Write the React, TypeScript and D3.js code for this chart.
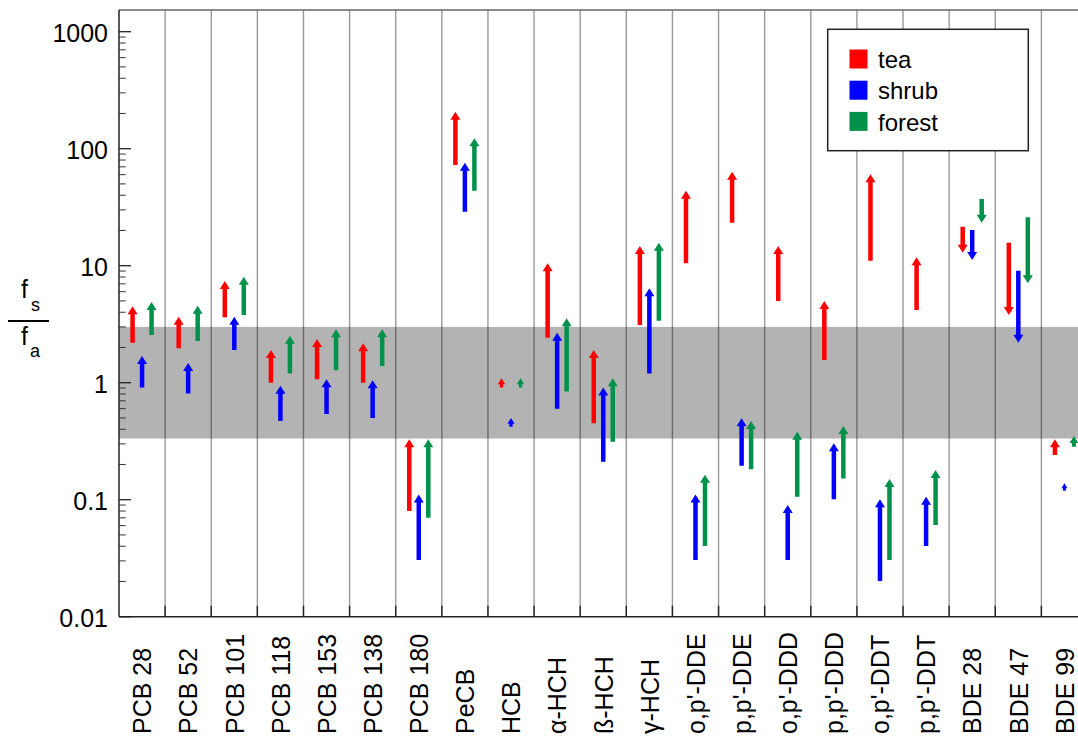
import React from "react";
import * as d3 from "d3";

const categories = [
  "PCB 28", "PCB 52", "PCB 101", "PCB 118", "PCB 153", "PCB 138", "PCB 180",
  "PeCB", "HCB", "α-HCH", "ß-HCH", "γ-HCH", "o,p'-DDE", "p,p'-DDE",
  "o,p'-DDD", "p,p'-DDD", "o,p'-DDT", "p,p'-DDT", "BDE 28", "BDE 47", "BDE 99",
];

const seriesNames = ["tea", "shrub", "forest"];
const seriesColors = ["#ff0000", "#0000ff", "#00924a"];

// arrow tail (from) and head (to) values of fs/fa
const teaFrom = [2.2, 1.97, 3.62, 1.0, 1.07, 1.0, 0.08, 72.6, 0.91, 2.42, 0.45, 3.11, 10.5, 23.3, 4.99, 1.56, 11.0, 4.18, 21.5, 15.7, 0.241];
const teaTo = [4.5, 3.66, 7.4, 1.9, 2.36, 2.17, 0.328, 207, 1.09, 10.5, 1.9, 14.7, 43.8, 63.6, 14.7, 4.99, 60.4, 11.8, 12.9, 3.79, 0.328];
const shrubFrom = [0.91, 0.81, 1.9, 0.47, 0.54, 0.5, 0.0305, 28.9, 0.42, 0.6, 0.211, 1.2, 0.0305, 0.195, 0.0305, 0.101, 0.0202, 0.0402, 20.2, 9.06, 0.119];
const shrubTo = [1.69, 1.47, 3.66, 0.94, 1.07, 1.05, 0.111, 75.9, 0.5, 2.67, 0.91, 6.41, 0.111, 0.496, 0.09, 0.303, 0.101, 0.106, 11.2, 2.2, 0.138];
const forestFrom = [2.56, 2.27, 3.79, 1.2, 1.28, 1.39, 0.07, 43.8, 0.91, 0.84, 0.313, 3.39, 0.0402, 0.182, 0.106, 0.152, 0.0305, 0.0608, 37.2, 25.9, 0.284];
const forestTo = [4.9, 4.55, 8.05, 2.52, 2.86, 2.86, 0.328, 122.7, 1.09, 3.55, 1.09, 15.7, 0.163, 0.471, 0.381, 0.427, 0.15, 0.179, 23.3, 7.07, 0.35];

const yTickValues = [0.01, 0.1, 1, 10, 100, 1000];
const yTickLabels = ["0.01", "0.1", "1", "10", "100", "1000"];
const bandLow = 1 / 3;
const bandHigh = 3;

const W = 1078;
const H = 738;
const plotLeft = 119;
const plotRight = 1087.5;
const plotTop = 10;
const plotBottom = 616.7;
const FONT = "'Liberation Sans', Arial, Helvetica, sans-serif";

export default function App() {
  const x = d3.scaleBand<string>().domain(categories).range([plotLeft, plotRight]).padding(0);
  const xs = d3.scalePoint<string>().domain(seriesNames).range([-9.5, 9.5]);
  const y = d3.scaleLog().domain([0.01, 1000]).range([plotBottom, 31.7]);

  const froms = [teaFrom, shrubFrom, forestFrom];
  const tos = [teaTo, shrubTo, forestTo];

  const minorTicks: number[] = [];
  for (let e = -2; e <= 3; e++) {
    for (let m = 2; m <= 9; m++) {
      const v = m * Math.pow(10, e);
      if (y(v) >= plotTop) minorTicks.push(v);
    }
  }

  const arrows: React.ReactNode[] = [];
  categories.forEach((c, i) => {
    seriesNames.forEach((s, k) => {
      const cx = (x(c) as number) + x.bandwidth() / 2 + (xs(s) as number);
      const y0 = y(froms[k][i]);
      const y1 = y(tos[k][i]);
      const len = Math.abs(y1 - y0);
      const dir = y1 < y0 ? -1 : 1;
      const headLen = Math.min(8, 0.65 * len);
      const headW = Math.min(10, headLen * 1.25);
      const shaftW = Math.min(5, headW * 0.45);
      const yb = y1 - dir * headLen;
      const p = d3.path();
      p.moveTo(cx - shaftW / 2, y0);
      p.lineTo(cx - shaftW / 2, yb);
      p.lineTo(cx - headW / 2, yb);
      p.lineTo(cx, y1);
      p.lineTo(cx + headW / 2, yb);
      p.lineTo(cx + shaftW / 2, yb);
      p.lineTo(cx + shaftW / 2, y0);
      p.closePath();
      arrows.push(<path key={`${c}-${s}`} d={p.toString()} fill={seriesColors[k]} />);
    });
  });

  const separators = categories.slice(1).map((c) => x(c) as number);

  return (
    <svg width={W} height={H} style={{ position: "absolute", left: 0, top: 0 }} fontFamily={FONT}>
      <rect x={0} y={0} width={W} height={H} fill="#fff" />
      {/* gray band */}
      <rect x={plotLeft} y={y(bandHigh)} width={plotRight - plotLeft} height={y(bandLow) - y(bandHigh)} fill="#b3b3b3" />
      {/* separators */}
      {separators.map((sx, i) => (
        <line key={`sep${i}`} x1={sx} x2={sx} y1={plotTop} y2={plotBottom} stroke="#000" strokeOpacity={0.4} strokeWidth={1.4} />
      ))}
      {arrows}
      {/* frame */}
      <line x1={plotLeft} x2={W} y1={plotTop} y2={plotTop} stroke="#666" strokeWidth={1.5} />
      <line x1={plotLeft} x2={plotLeft} y1={plotTop} y2={plotBottom} stroke="#222" strokeWidth={1.5} />
      <line x1={plotLeft} x2={W} y1={plotBottom} y2={plotBottom} stroke="#222" strokeWidth={1.5} />
      {/* bottom ticks */}
      {separators.map((sx, i) => (
        <line key={`bt${i}`} x1={sx} x2={sx} y1={plotBottom} y2={plotBottom - 11} stroke="#222" strokeWidth={1.4} />
      ))}
      {/* y ticks */}
      {yTickValues.map((v, i) => (
        <g key={`yt${i}`}>
          <line x1={plotLeft} x2={plotLeft + 12} y1={y(v)} y2={y(v)} stroke="#222" strokeWidth={1.3} />
          <text x={108} y={y(v)} dy="0.4em" textAnchor="end" fontSize={25} fill="#000">
            {yTickLabels[i]}
          </text>
        </g>
      ))}
      {minorTicks.map((v, i) => (
        <line key={`mt${i}`} x1={plotLeft} x2={plotLeft + 6.7} y1={y(v)} y2={y(v)} stroke="#333" strokeWidth={1} />
      ))}
      {/* x labels */}
      {categories.map((c) => {
        const cx = (x(c) as number) + x.bandwidth() / 2;
        return (
          <text key={`xl${c}`} transform={`translate(${cx},734) rotate(-90)`} dy="0.37em" textAnchor="start" fontSize={25} fill="#000">
            {c}
          </text>
        );
      })}
      {/* y axis label fs / fa */}
      <text x={21} y={298} fontSize={25} fill="#000">f</text>
      <text x={31} y={311} fontSize={18} fill="#000">s</text>
      <line x1={8} x2={49} y1={321} y2={321} stroke="#000" strokeWidth={2.2} />
      <text x={21} y={345} fontSize={25} fill="#000">f</text>
      <text x={30} y={357} fontSize={18} fill="#000">a</text>
      {/* legend */}
      <rect x={827.7} y={29.3} width={200.6} height={121.4} fill="#fff" stroke="#222" strokeWidth={1.5} />
      {seriesNames.map((s, k) => (
        <g key={`lg${s}`}>
          <rect x={849.5} y={49.5 + k * 31.2} width={18} height={19} fill={seriesColors[k]} />
          <text x={878} y={67.7 + k * 31.5} fontSize={24} fill="#000">{s}</text>
        </g>
      ))}
    </svg>
  );
}
